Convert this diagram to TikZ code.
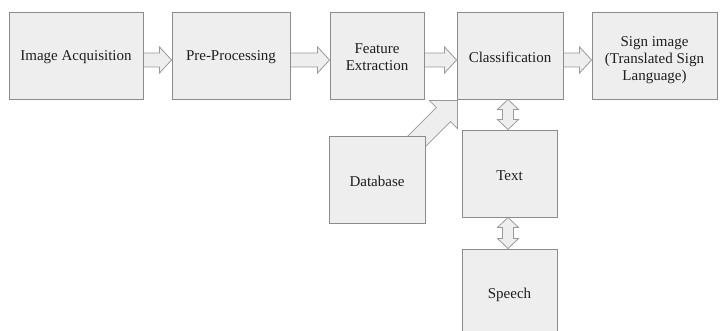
\documentclass[tikz,border=0pt]{standalone}
\usepackage{fontspec}
\setmainfont{Liberation Serif}
\usetikzlibrary{calc}
\pgfdeclarelayer{bg}
\pgfsetlayers{bg,main}
\definecolor{boxfill}{HTML}{EEEEEE}
\definecolor{boxline}{HTML}{8C8C8C}
\definecolor{arrline}{HTML}{999999}
\definecolor{textcol}{HTML}{1E1E1E}
\newcommand\harrow[2]{%
  \filldraw[arr] ($(#1.east)+(0,-2.5)$) -- ($(#2.west)+(-12,-2.5)$) -- ($(#2.west)+(-12,-8.5)$)
    -- ($(#2.west)+(0,4.5)$) -- ($(#2.west)+(-12,17.5)$) -- ($(#2.west)+(-12,11.5)$)
    -- ($(#1.east)+(0,11.5)$) -- cycle;}
\newcommand\varrow[2]{%
  \filldraw[arr] (#1) -- ($(#1)+(10.5,10)$) -- ($(#1)+(5.5,10)$) -- ($(#2)+(5.5,-10)$)
    -- ($(#2)+(10.5,-10)$) -- (#2) -- ($(#2)+(-10.5,-10)$) -- ($(#2)+(-5.5,-10)$)
    -- ($(#1)+(-5.5,10)$) -- ($(#1)+(-10.5,10)$) -- cycle;}
\begin{document}
\begin{tikzpicture}[x=1pt,y=-1pt,
  box/.style={draw=boxline, fill=boxfill, line width=0.9pt, inner sep=0pt, minimum height=87},
  txt/.style={inner sep=0pt, align=center, font=\fontsize{15}{17}\selectfont, text=textcol},
  arr/.style={draw=arrline, fill=boxfill, line width=0.8pt, line join=miter}]
\useasboundingbox (0,0) rectangle (723,331);
\clip (0,0) rectangle (723,331);

\node[box, minimum width=134] (ia) at (76,55.5) {};
\node[box, minimum width=118] (pp) at (231,55.5) {};
\node[box, minimum width=94] (fe) at (377,55.5) {};
\node[box, minimum width=106] (cl) at (510,55.5) {};
\node[box, minimum width=125] (si) at (654.5,55.5) {};
\node[box, minimum width=96] (db) at (377,179.5) {};
\node[box, minimum width=95] (tx) at (509.5,173.5) {};
\node[box, minimum width=95] (sp) at (509.5,292.5) {};

\node[txt] (iat) at ($(ia)+(0,2)$) {Image Acquisition};
\node[txt] (ppt) at ($(pp)+(0,2)$) {Pre-Processing};
\node[txt] (fet) at ($(fe)+(0,2)$) {Feature\\Extraction};
\node[txt] (clt) at ($(cl)+(0,2)$) {Classification};
\node[txt] (sit) at ($(si)+(0,5)$) {Sign image\\(Translated Sign\\Language)};
\node[txt] (dbt) at ($(db)+(0,2)$) {Database};
\node[txt] (txt) at ($(tx)+(0,2)$) {Text};
\node[txt] (spt) at ($(sp)+(0,2)$) {Speech};

\coordinate (c1) at ($(cl.south -| tx.north)+(-1.5,0)$);
\coordinate (t1) at ($(tx.north)+(-1.5,0)$);
\coordinate (t2) at ($(tx.south)+(-1.5,0)$);
\coordinate (s1) at ($(sp.north)+(-1.5,0)$);
\coordinate (tip) at ($(cl.south west)+(1,1)$);

\begin{pgfonlayer}{bg}
\fill[white] (0,0) rectangle (723,331);
\harrow{ia}{pp}
\harrow{pp}{fe}
\harrow{fe}{cl}
\harrow{cl}{si}
\varrow{c1}{t1}
\varrow{t2}{s1}
\filldraw[arr] ($(tip)+(-70.71,56.57)$) -- ($(tip)+(-21.21,7.07)$) -- ($(tip)+(-28.28,0)$)
  -- (tip) -- ($(tip)+(0,28.28)$) -- ($(tip)+(-7.07,21.21)$) -- ($(tip)+(-56.57,70.71)$) -- cycle;
\end{pgfonlayer}
\end{tikzpicture}
\end{document}
